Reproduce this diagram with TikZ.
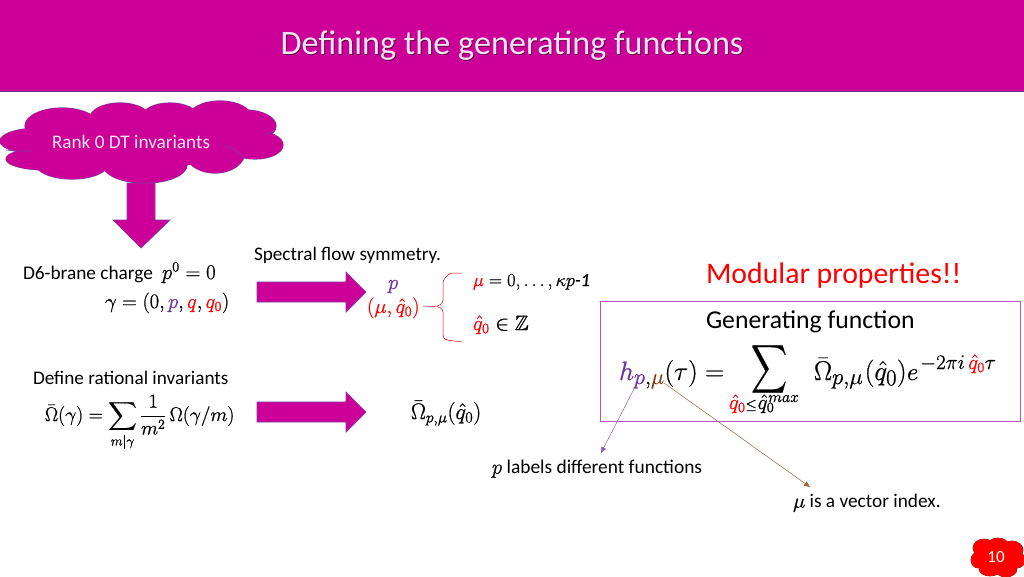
\documentclass[tikz,border=0pt]{standalone}
\usepackage{amsmath,amssymb,graphicx}
\usepackage[no-math]{fontspec}
\setmainfont{Carlito}
\usetikzlibrary{arrows.meta}
\definecolor{mag}{HTML}{CC0099}
\definecolor{edge}{HTML}{7A3FA0}
\definecolor{purp}{HTML}{7030A0}
\definecolor{brn}{HTML}{843C0C}
\definecolor{boxline}{HTML}{C04FC0}
\definecolor{titlecol}{HTML}{F5E6F2}
\newcommand{\fs}[1]{\fontsize{#1}{#1}\selectfont}
\newcommand{\rd}[1]{\textcolor{red}{#1}}
\newcommand{\pp}[1]{\textcolor{purp}{#1}}
\newcommand{\br}[1]{\textcolor{brn}{#1}}
\newcommand{\hv}{\special{pdf:code 2 Tr 0.17 w}}
\newcommand{\nv}{\special{pdf:code 0 Tr}}
\tikzset{
  blockarrow/.style={fill=mag,draw=edge,line width=0.7pt,line join=miter},
  txt/.style={inner sep=0pt,outer sep=0pt,anchor=west,text=black},
  mth/.style={inner sep=0pt,outer sep=0pt,anchor=base west,text=black,execute at begin node=\hv,execute at end node=\nv},
  thinred/.style={draw=red!85!black,line width=0.5pt,rounded corners=3pt},
}
\begin{document}
\begin{tikzpicture}[x=1pt,y=-1pt]
\useasboundingbox (0,0) rectangle (1024,576);
% header
\fill[mag] (0,0) rectangle (1024,91);
\draw[edge!80!black,line width=0.8pt] (0,91.5) -- (1024,91.5);
\node[inner sep=0pt,text=black!55!mag] at (512.8,46.8) {\fs{34.2}Defining the generating functions};
\node[inner sep=0pt,text=titlecol] (title) at (512,46) {\fs{34.2}Defining the generating functions};
% cloud
\foreach \cx/\cy/\a/\b in {40/141/40/13,46/159/40/11,62/126/37/18,120/118/30/15,170/117/28/14,220/118/32/17,245/126/31/16,255/145/28/14,215/152/30/21,145/165/42/18,72/163/37/16}{
  \draw[edge,line width=1.2pt] (\cx,\cy) ellipse [x radius=\a,y radius=\b];
}
\foreach \cx/\cy/\a/\b in {40/141/40/13,46/159/40/11,62/126/37/18,120/118/30/15,170/117/28/14,220/118/32/17,245/126/31/16,255/145/28/14,215/152/30/21,145/165/42/18,72/163/37/16}{
  \fill[mag] (\cx,\cy) ellipse [x radius=\a,y radius=\b];
}
\fill[mag] (60,125) rectangle (235,165);
\draw[edge,line width=0.6pt] (6,150) .. controls (14,151) and (22,151) .. (31,151);
\draw[edge,line width=0.6pt] (224,145) .. controls (232,148) and (240,153) .. (244,158);
\draw[edge,line width=0.6pt] (265,135) .. controls (268,133) and (272,132) .. (275,130);
\node[txt,text=titlecol] (rank) at (52,142) {\fs{19.2}Rank 0 DT invariants};
% block arrows
\path[blockarrow] (127,183) -- (155,183) -- (155,220) -- (170,220) -- (141,248) -- (113,220) -- (127,220) -- cycle;
\path[blockarrow] (257,282) -- (346,282) -- (346,272) -- (366,292) -- (346,312) -- (346,302) -- (257,302) -- cycle;
\path[blockarrow] (257,402) -- (346,402) -- (346,392) -- (366,412) -- (346,432) -- (346,422) -- (257,422) -- cycle;
% left text
\node[txt] (d6) at (23,274) {\fs{19.3}D6-brane charge};
\node[mth] (p0) at (162,279) {\fs{20.74}$p^0=0$};
\node[mth] (gam) at (105,308) {\scalebox{0.985}{\fs{20.74}$\gamma=(0,\pp{p},\rd{q},\rd{q_0})$}};
\node[txt] (def) at (33,378) {\fs{19.2}Define rational invariants};
\node[mth] (om) at (45,421) {\scalebox{0.95}{\fs{20.74}$\bar\Omega(\gamma)=\displaystyle\sum_{m|\gamma}\frac{1}{m^2}\,\Omega(\gamma/m)$}};
% middle text
\node[txt] (spec) at (254,255) {\fs{19.2}Spectral flow symmetry.};
\node[mth] (pm) at (388,289) {\fs{20.74}$\pp{p}$};
\node[mth] (mq) at (367,313) {\fs{20.74}$\rd{(\mu,\hat q_0)}$};
\node[mth] (mu) at (473,286) {\scalebox{1.06}{\fs{17.28}$\rd{\mu}=0,\dots,\kappa p\textit{-1}$}};
\node[mth] (qz) at (473,330) {\fs{20.74}$\rd{\hat q_0}\in\mathbb{Z}$};
\node[mth] (omq) at (411,419) {\scalebox{1.08}{\fs{20.74}$\bar\Omega_{p,\mu}(\hat q_0)$}};
\path[thinred] (462,273) -- (450,273) -- (443,280) -- (443,303) -- (437,306.5) -- (423,306);
\path[thinred] (437,306.5) -- (443,309) -- (443,338) -- (447,340) -- (462,342);
% right
\node[txt,text=red] (mod) at (706,276) {\fs{29.8}Modular properties!!};
\draw[boxline,line width=0.8pt] (600,301) rectangle (1020,421);
\node[txt] (gen) at (706,322) {\fs{25.7}Generating function};
\node[mth] (h) at (619,380) {\scalebox{1.07}{\fs{24.88}$\pp{h}_{\pp{p},\br{\mu}}(\tau)=$}};
\node[inner sep=0pt,execute at begin node=\hv] (sum) at (769,369) {\scalebox{1}[1.35]{\fs{24.88}$\displaystyle\sum$}};
\node[mth] (lim) at (729,409) {\fs{20.74}$\rd{\hat q_0}${\fs{14.4}$\leq$}\hspace{1pt}$\hat q_0$\hspace{-6pt}\raisebox{7pt}{\scalebox{0.92}{\fs{17.28}$max$}}};
\node[mth] (rhs) at (814,380) {\scalebox{1.09}{\fs{24.88}$\bar\Omega_{p,\mu}\mkern1mu(\hat q_0)$}};
\node[mth] (eee) at (907,380) {\fs{24.88}$e$};
\node[mth] (exp) at (920,369) {\fs{20.74}$-2\pi i\,\rd{\hat q_0}\tau$};
% thin arrows
\coordinate (pa) at (634,389);
\coordinate (pb) at (601,453);
\coordinate (ma) at (664,383);
\coordinate (mb) at (810,487);
\draw[purp!80,line width=0.5pt,-{Triangle[length=6pt,width=5pt]}] (pa) -- (pb);
\draw[brn!80,line width=0.5pt,-{Triangle[length=6pt,width=5pt]}] (ma) -- (mb);
\node[txt] (pl) at (492,469) {\fs{19.4}{\hv$p$\nv} labels different functions};
\node[txt] (ml) at (793,503) {\fs{19.3}{\hv$\mu$\nv} is a vector index.};
% page cloud
\foreach \cx/\cy/\a/\b in {984/548/11/9,998/546/11/8,1012/550/11/9,1017/560/8/8,1006/569/11/8,990/569/11/7,978/560/7/8,996/557/20/14}{
  \draw[brn!70!black,line width=0.7pt] (\cx,\cy) ellipse [x radius=\a,y radius=\b];
}
\foreach \cx/\cy/\a/\b in {984/548/11/9,998/546/11/8,1012/550/11/9,1017/560/8/8,1006/569/11/8,990/569/11/7,978/560/7/8,996/557/20/14}{
  \fill[red] (\cx,\cy) ellipse [x radius=\a,y radius=\b];
}
\node[inner sep=0pt,text=white] (num) at (996,557) {\fs{17}10};
\end{tikzpicture}
\end{document}
